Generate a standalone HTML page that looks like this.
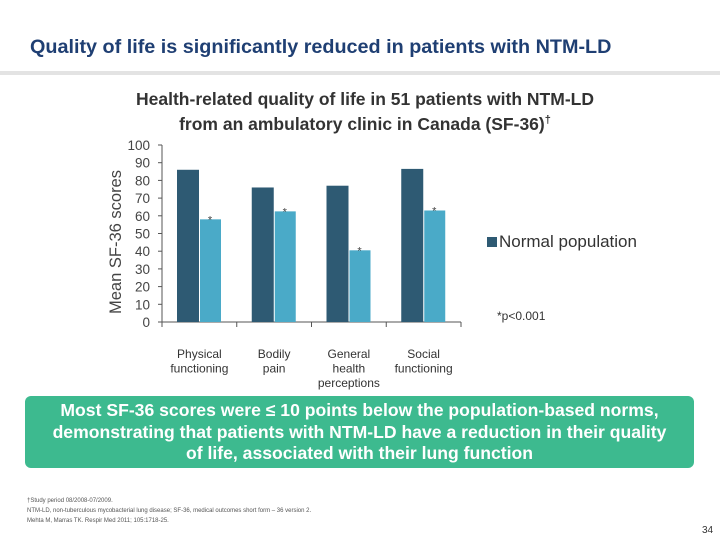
<!DOCTYPE html>
<html><head><meta charset="utf-8"><style>
body{margin:0;width:720px;height:540px;background:#fff;font-family:"Liberation Sans",sans-serif;position:relative;overflow:hidden}
.a{position:absolute}
</style></head><body>
<div class="a" style="left:30px;top:36px;font-size:19.8px;font-weight:bold;color:#1f3f73;white-space:nowrap">Quality of life is significantly reduced in patients with NTM-LD</div>
<div class="a" style="left:0;top:71px;width:720px;height:4px;background:#e3e3e3"></div>
<div class="a" style="left:60px;top:89px;width:610px;text-align:center;font-size:17.5px;font-weight:bold;color:#333;line-height:21px">Health-related quality of life in 51 patients with NTM-LD<br>from an ambulatory clinic in Canada (SF-36)<sup style="font-size:11px">†</sup></div>
<svg class="a" style="left:0;top:0" width="720" height="540">
<text transform="translate(121,242) rotate(-90)" text-anchor="middle" font-size="16.5" fill="#444" font-family="Liberation Sans">Mean SF-36 scores</text>
<g id="g"></g>
</svg>
<div class="a" style="left:487px;top:237px;width:10px;height:10px;background:#2e5a73"></div>
<div class="a" style="left:499px;top:232px;font-size:17px;color:#333">Normal population</div>
<div class="a" style="left:497px;top:309px;font-size:12px;color:#333">*p&lt;0.001</div>
<div class="a" style="left:25px;top:396px;width:669px;height:72px;background:#3dba8f;border-radius:6px;color:#fff;font-size:17.6px;font-weight:bold;text-align:center;line-height:21.5px;padding-top:4px;box-sizing:border-box;white-space:nowrap">Most SF-36 scores were ≤ 10 points below the population-based norms,<br>demonstrating that patients with NTM-LD have a reduction in their quality<br>of life, associated with their lung function</div>
<div class="a" style="left:27px;top:496px;font-size:6px;color:#555;line-height:10px;white-space:nowrap">†Study period 08/2008-07/2009.<br>NTM-LD, non-tuberculous mycobacterial lung disease; SF-36, medical outcomes short form – 36 version 2.<br>Mehta M, Marras TK. Respir Med 2011; 105:1718-25.</div>
<div class="a" style="left:702px;top:525px;font-size:10px;color:#333">34</div>
<script>
const categories=[["Physical","functioning"],["Bodily","pain"],["General","health","perceptions"],["Social","functioning"]];
const normalValues=[86,76,77,86.5];
const patientValues=[58,62.5,40.5,63];
const yTicks=[0,10,20,30,40,50,60,70,80,90,100];
const NS="http://www.w3.org/2000/svg",g=document.getElementById('g');
const x0=162,cw=74.75,y0=322,ys=1.77;
const Y=v=>y0-v*ys, X=i=>x0+i*cw;
function mk(t,a,txt){const e=document.createElementNS(NS,t);for(const k in a)e.setAttribute(k,a[k]);if(txt!=null)e.textContent=txt;g.appendChild(e);return e;}
let e=mk('line',{x1:x0,y1:Y(0),x2:x0,y2:Y(100),stroke:'#555'});

e=mk('line',{x1:x0,y1:y0,x2:X(4),y2:y0,stroke:'#555'});

yTicks.forEach(v=>{
 e=mk('line',{x1:x0-4,y1:Y(v),x2:x0,y2:Y(v),stroke:'#555'});
 
 e=mk('text',{x:150,y:Y(v)+5,'text-anchor':'end','font-size':13.5,fill:'#444'},v);
 
});
for(let i=0;i<=4;i++){e=mk('line',{x1:X(i),y1:y0,x2:X(i),y2:y0+5,stroke:'#555'});
 }
categories.forEach((c,i)=>{
 e=mk('rect',{x:X(i)+15,y:Y(normalValues[i]),width:22,height:normalValues[i]*ys,fill:'#2e5a73'});
 
 e=mk('rect',{x:X(i)+38,y:Y(patientValues[i]),width:21,height:patientValues[i]*ys,fill:'#4aaac8'});
 
 e=mk('text',{x:X(i)+48,y:Y(patientValues[i])+4,'text-anchor':'middle','font-size':11,fill:'#444'},'*');
 
 c.forEach((l,j)=>{e=mk('text',{x:X(i)+cw/2,y:358+j*14.5,'text-anchor':'middle','font-size':12,fill:'#333'},l);
  });
});
</script>
</body></html>
